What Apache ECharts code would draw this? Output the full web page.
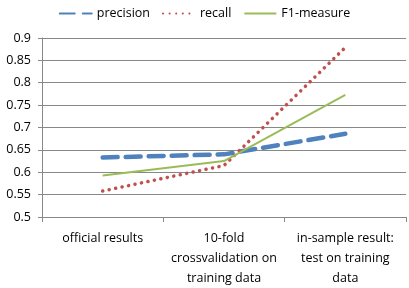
<!DOCTYPE html>
<html>
<head>
<meta charset="utf-8">
<script src="https://cdn.jsdelivr.net/npm/echarts@6/dist/echarts.min.js"></script>
<style>
html,body{margin:0;padding:0;background:#fff}
#chart{width:409px;height:288px}
</style>
</head>
<body>
<div id="chart"></div>
<script>
var categories = ['official results', '10-fold\ncrossvalidation on\ntraining data', 'in-sample result:\ntest on training\ndata']
var precision = [0.633, 0.64, 0.686]
var recall = [0.558, 0.615, 0.879]
var f1 = [0.593, 0.625, 0.773]

var chart = echarts.init(document.getElementById('chart'))
var font = 'Open Sans'
chart.setOption({
    animation: false,
    legend: {
        top: 2,
        left: 'center',
        itemWidth: 32,
        itemHeight: 10,
        itemGap: 12,
        itemStyle: {opacity: 0},
        textStyle: {fontFamily: font, fontSize: 12.5, color: '#000'},
        data: ['precision', 'recall', 'F1-measure']
    },
    grid: {left: 42, right: 3, top: 38, bottom: 70},
    xAxis: {
        type: 'category',
        data: categories,
        boundaryGap: true,
        axisLine: {lineStyle: {color: '#888'}},
        axisTick: {show: true, length: 5, lineStyle: {color: '#888'}},
        axisLabel: {fontFamily: font, fontSize: 12.5, color: '#000', lineHeight: 20, margin: 11, interval: 0}
    },
    yAxis: {
        type: 'value',
        min: 0.5,
        max: 0.9,
        interval: 0.05,
        axisLine: {show: true, lineStyle: {color: '#888'}},
        axisTick: {show: true, length: 4, lineStyle: {color: '#888'}},
        splitLine: {lineStyle: {color: '#888'}},
        axisLabel: {fontFamily: font, fontSize: 12.5, color: '#000', margin: 11}
    },
    series: [{
        name: 'precision',
        type: 'line',
        data: precision,
        symbol: 'none',
        lineStyle: {color: '#4F81BD', width: 4.5, type: [15, 8], cap: 'round'},
        itemStyle: {color: '#4F81BD'}
    }, {
        name: 'recall',
        type: 'line',
        data: recall,
        symbol: 'none',
        lineStyle: {color: '#C0504D', width: 3.5, type: [0.1, 6.5], cap: 'round'},
        itemStyle: {color: '#C0504D'}
    }, {
        name: 'F1-measure',
        type: 'line',
        data: f1,
        symbol: 'none',
        lineStyle: {color: '#9BBB59', width: 2},
        itemStyle: {color: '#9BBB59'}
    }]
})
</script>
</body>
</html>
